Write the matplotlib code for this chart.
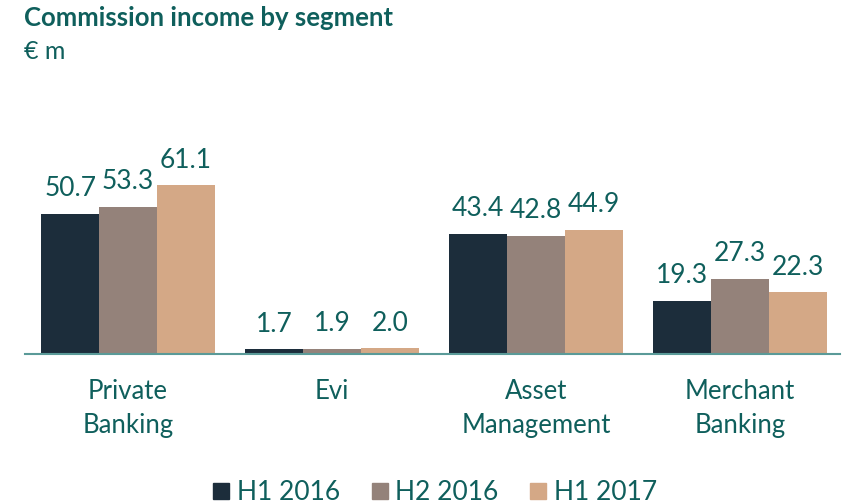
import matplotlib.pyplot as plt
from matplotlib.patches import Patch
import numpy as np

plt.rcParams['font.family'] = ['Lato', 'DejaVu Sans']

categories = ['Private\nBanking', 'Evi', 'Asset\nManagement', 'Merchant\nBanking']
series = ['H1 2016', 'H2 2016', 'H1 2017']
h1_2016 = [50.7, 1.7, 43.4, 19.3]
h2_2016 = [53.3, 1.9, 42.8, 27.3]
h1_2017 = [61.1, 2.0, 44.9, 22.3]

colors = ['#1c2d3b', '#94827a', '#d4a886']
text_color = '#0f5f5c'

fig = plt.figure(figsize=(8.45, 5.04), dpi=100)
ax = fig.add_axes([0.0296, 0.2976, 0.9645, 0.3841])

x = np.arange(len(categories))
w = 0.284
for i, (vals, c) in enumerate(zip([h1_2016, h2_2016, h1_2017], colors)):
    pos = x + (i - 1) * w
    bars = ax.bar(pos, vals, width=w, color=c, label=series[i])
    for b, v in zip(bars, vals):
        ax.annotate(f'{v:.1f}', (b.get_x() + b.get_width() / 2, v),
                    xytext=(0, 9), textcoords='offset points',
                    ha='center', va='bottom', fontsize=19, color=text_color,
                    annotation_clip=False)

ax.set_xlim(-0.505, 3.49)
ax.set_ylim(0, 70)
for s in ['top', 'right', 'left']:
    ax.spines[s].set_visible(False)
ax.spines['bottom'].set_color('#5a9a98')
ax.spines['bottom'].set_linewidth(1.5)
ax.set_yticks([])
ax.set_xticks(x)
ax.set_xticklabels(categories, fontsize=18.5, color=text_color, linespacing=1.45)
ax.tick_params(axis='x', length=0, pad=18)

fig.text(0.028, 0.965, 'Commission income by segment', fontsize=18.5, fontweight='bold',
         color=text_color, va='center')
fig.text(0.028, 0.897, '€ m', fontsize=18, color=text_color, va='center')

handles = [Patch(color=c) for c in colors]
fig.legend(handles, series, loc='center', bbox_to_anchor=(0.515, 0.022), ncol=3,
           frameon=False, fontsize=19, handlelength=0.6, handleheight=0.6,
           handletextpad=0.3, columnspacing=1.2, labelcolor=text_color)

plt.savefig('out.png')
